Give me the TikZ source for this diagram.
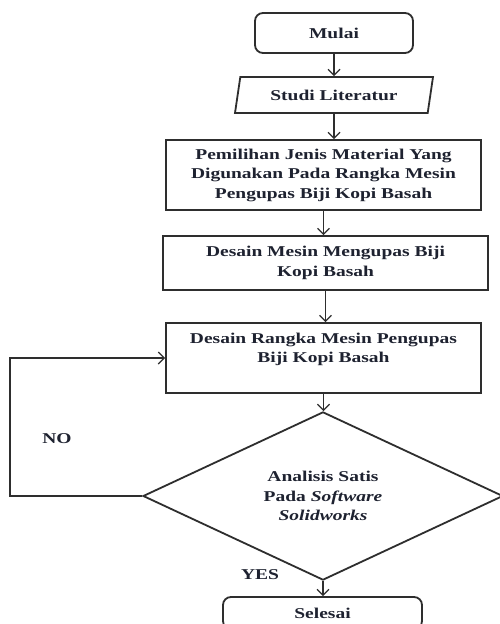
\documentclass[tikz,border=0pt]{standalone}
\usepackage{fontspec}
\setmainfont{Liberation Serif}[FakeStretch=1.3]
\usepackage{xcolor}
\usepackage{tikz}
\usetikzlibrary{shapes.geometric, shapes.misc, arrows.meta}

\definecolor{inkdark}{HTML}{1E2230}
\definecolor{linedark}{HTML}{2E2E2E}

\begin{document}
\begin{tikzpicture}[x=1pt, y=-1pt,
    font=\fontsize{15}{19.5}\selectfont\bfseries, text=inkdark,
    stepbox/.style={draw=linedark, line width=1.8pt, align=center, inner sep=2pt},
    endbox/.style={stepbox, rounded corners=8pt},
    flow/.style={draw=linedark, line width=1.2pt, -{Straight Barb[length=6pt,width=12pt]}}]
    \useasboundingbox (0,0) rectangle (500,624);
    \fill[white] (0,0) rectangle (500,624);

    % Start and input
    \node[endbox, minimum width=158pt, minimum height=40pt] (mulai) at (334,33) {Mulai};
    \node[stepbox, trapezium, trapezium left angle=70, trapezium right angle=110,
        trapezium stretches body, minimum width=198pt, minimum height=36pt] (studi) at (334,95) {Studi Literatur};

    % Process boxes
    \node[stepbox, minimum width=315pt, minimum height=70pt] (pemilihan) at (323.5,175)
        {Pemilihan Jenis Material Yang\\Digunakan Pada Rangka Mesin\\Pengupas Biji Kopi Basah};
    \node[stepbox, minimum width=325pt, minimum height=54pt] (mesin) at (325.5,263)
        {Desain Mesin Mengupas Biji\\Kopi Basah};
    \node[stepbox, minimum width=315pt, minimum height=70pt, text depth=20pt] (rangka) at (323.5,358)
        {Desain Rangka Mesin Pengupas\\Biji Kopi Basah};

    % Decision
    \node[stepbox, diamond, inner sep=0pt, minimum width=360pt, minimum height=145pt] (analisis) at (323,496)
        {Analisis Satis\\Pada \textit{Software}\\\textit{Solidworks}};

    \node[endbox, minimum width=199pt, minimum height=32pt] (selesai) at (322.5,613) {Selesai};

    \node (no) at (57,439) {NO};
    \node (yes) at (260,575) {YES};

    % Arrows
    \draw[flow] (mulai.south) -- (mulai.south |- studi.north);
    \draw[flow] (studi.south) -- (studi.south |- pemilihan.north);
    \draw[flow] (pemilihan.south) -- (pemilihan.south |- mesin.north);
    \draw[flow] (mesin.south) -- (mesin.south |- rangka.north);
    \draw[flow] (rangka.south) -- (rangka.south |- analisis.north);
    \draw[flow] (analisis.south) -- (analisis.south |- selesai.north);

    \coordinate (back) at (10,496);
    \draw[flow] (analisis.west) -- (back) |- (rangka.west);
\end{tikzpicture}
\end{document}
